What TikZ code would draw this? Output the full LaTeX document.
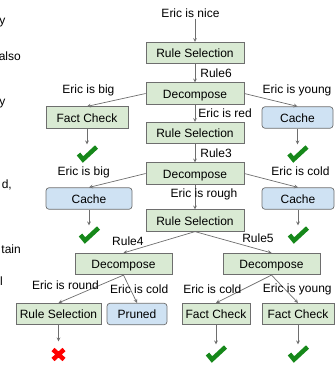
\documentclass[tikz,border=0pt]{standalone}
\usepackage{fontspec}
\setmainfont{Liberation Sans}
\usetikzlibrary{arrows,positioning}

\definecolor{opfill}{HTML}{D9EAD3}
\definecolor{cachefill}{HTML}{CFE2F3}
\definecolor{linegray}{HTML}{6E6E6E}
\definecolor{okgreen}{HTML}{16881A}
\definecolor{badred}{HTML}{FF0000}

\tikzset{
  op/.style={draw=linegray, fill=opfill, line width=0.7pt, minimum height=21.5pt, inner sep=1pt, text height=9.5pt, text depth=0pt},
  cached/.style={op, fill=cachefill, rounded corners=3pt},
  lbl/.style={inner sep=1pt, text=black},
  frag/.style={inner sep=0pt, anchor=base east},
  conn/.style={->, >=stealth, color=linegray, line width=0.7pt},
  okmark/.style={minimum width=22pt, minimum height=19pt, inner sep=0pt,
    path picture={\draw[okgreen, line width=4.5pt, line join=miter]
      ([xshift=-8.5pt]path picture bounding box.center) -- ++(4.5pt,-5.5pt) -- ++(13.5pt,12.5pt);}},
  nomark/.style={minimum width=18pt, minimum height=26pt, inner sep=0pt,
    path picture={\draw[badred, line width=4.5pt]
      ([shift={(-5.5pt,-5pt)}]path picture bounding box.center) -- ++(11pt,10pt)
      ([shift={(-5.5pt,5pt)}]path picture bounding box.center) -- ++(11pt,-10pt);}}
}

\begin{document}
\begin{tikzpicture}[x=1pt, y=-1pt, font=\fontsize{12}{14}\selectfont]
  \useasboundingbox (0,0) rectangle (335,369);

  \node[frag] (f1) at (5.5,25) {y};
  \node[frag] (f2) at (21,60) {also};
  \node[frag] (f3) at (5.5,105) {y};
  \node[frag] (f4) at (12,188) {d,};
  \node[frag] (f5) at (21,253) {tain};
  \node[frag] (f6) at (3,285) {l};

  \node[lbl] (nice) at (190.5,13) {Eric is nice};
  \node[op, minimum width=98pt] (rs1) at (195,53) {Rule Selection};
  \node[op, minimum width=98pt] (dc1) at (195,93.5) {Decompose};
  \node[op, minimum width=98pt] (rs2) at (195,133) {Rule Selection};
  \node[op, minimum width=98pt] (dc2) at (195,173.5) {Decompose};
  \node[op, minimum width=98pt] (rs3) at (195,220.5) {Rule Selection};
  \node[op, minimum width=82pt] (fc1) at (87,117.5) {Fact Check};
  \node[cached, minimum width=71pt] (ca1) at (297.5,117.5) {Cache};
  \node[cached, minimum width=86pt] (ca2) at (89,198.5) {Cache};
  \node[cached, minimum width=72pt] (ca3) at (298,198.5) {Cache};
  \node[op, minimum width=97pt] (dc3) at (123.5,264) {Decompose};
  \node[op, minimum width=97pt] (dc4) at (271.5,264) {Decompose};
  \node[op, minimum width=85pt] (rs4) at (58.5,314) {Rule Selection};
  \node[cached, minimum width=60pt] (pr) at (137,314) {Pruned};
  \node[op, minimum width=68pt] (fc2) at (216,314) {Fact Check};
  \node[op, minimum width=72pt] (fc3) at (298,314) {Fact Check};

  \node[okmark] (ok1) at (87,154) {};
  \node[okmark] (ok2) at (297.5,154) {};
  \node[okmark] (ok3) at (89,235) {};
  \node[okmark] (ok4) at (298,235) {};
  \node[nomark] (no1) at (58.5,354.5) {};
  \node[okmark] (ok5) at (216,354) {};
  \node[okmark] (ok6) at (298,354) {};

  \path[conn]
  (rs1.north |- nice.south) edge (rs1)
  (rs1) edge node[lbl, right=4pt] {Rule6} (dc1)
  (dc1.west) edge node[lbl, above left, pos=0.51, yshift=3pt] {Eric is big} (fc1.north)
  (dc1.east) edge node[lbl, above right, pos=0.32] {Eric is young} (ca1.north)
  (dc1) edge node[lbl, right=2pt] {Eric is red} (rs2)
  (rs2) edge node[lbl, right=4pt] {Rule3} (dc2)
  (dc2.west) edge node[lbl, above left, pos=0.61, yshift=3pt] {Eric is big} (ca2.north)
  (dc2.east) edge node[lbl, above right, pos=0.48, yshift=3pt] {Eric is cold} (ca3.north)
  (dc2) edge node[lbl, pos=0.4, xshift=9pt] {Eric is rough} (rs3)
  (rs3.south) edge node[lbl, above left, pos=0.7] {Rule4} (dc3.north)
  (rs3.south) edge node[lbl, above right, pos=0.6] {Rule5} (dc4.north)
  (dc3.south) edge node[lbl, anchor=east, pos=0.36] {Eric is round} (rs4.north)
  (dc3.south) edge node[lbl, pos=0.5, xshift=9pt] {Eric is cold} (pr.north)
  (dc4.south) edge node[lbl, anchor=east, pos=0.52] {Eric is cold} (fc2.north)
  (dc4.south) edge node[lbl, pos=0.52, xshift=12pt] {Eric is young} (fc3.north)
  (fc1) edge (ok1)
  (ca1) edge (ok2)
  (ca2) edge (ok3)
  (ca3) edge (ok4)
  (rs4) edge (no1)
  (fc2) edge (ok5)
  (fc3) edge (ok6)
  ;
\end{tikzpicture}
\end{document}
